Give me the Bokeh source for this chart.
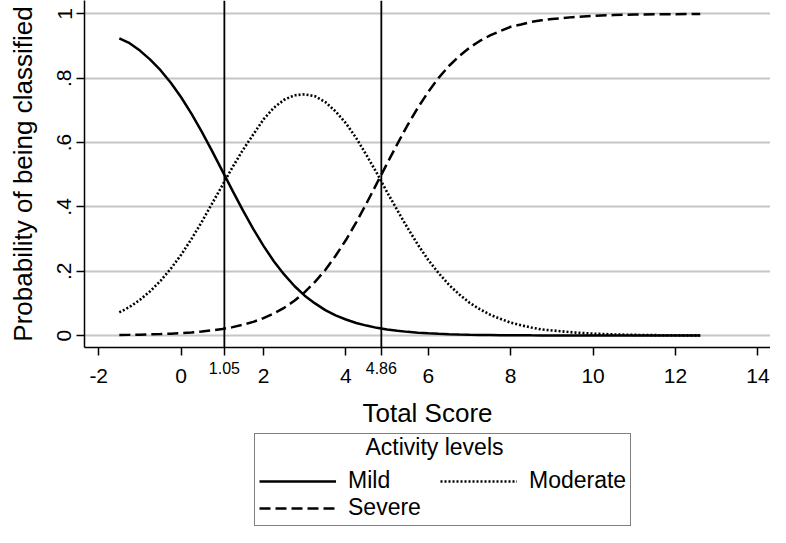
from bokeh.plotting import figure
from bokeh.layouts import column
from bokeh.models import (Range1d, FixedTicker, Span, Legend, LegendItem, Label,
                          NumeralTickFormatter, LinearAxis)
from bokeh.embed import file_html
from bokeh.resources import INLINE

# ---- data ----
score = [-1.5, -1.25, -1.0, -0.75, -0.5, -0.25,
         0.0, 0.25, 0.5, 0.75, 1.0, 1.25, 1.5, 1.75, 2.0, 2.25, 2.5, 2.75, 3.0, 3.25, 3.5,
         3.75, 4.0, 4.25, 4.5, 4.75, 5.0, 5.25, 5.5, 5.75, 6.0, 6.25, 6.5, 6.75, 7.0,
         7.25, 7.5, 7.75, 8.0, 8.25, 8.5, 8.75,
         9.0, 9.5, 10.0, 10.5, 11.0, 11.5, 12.0, 12.5, 12.6]
mild = [0.924, 0.909, 0.886, 0.858, 0.825, 0.786,
        0.741, 0.690, 0.634, 0.574, 0.512, 0.450, 0.389, 0.332, 0.279, 0.231, 0.190, 0.154,
        0.124, 0.100, 0.079, 0.063, 0.050, 0.039, 0.031, 0.024, 0.019, 0.015, 0.0115, 0.009,
        0.007, 0.0055, 0.0043, 0.0033, 0.0026,
        0.0020, 0.0016, 0.0012, 0.0010, 0.0008, 0.0006, 0.0005,
        0.0004, 0.0002, 0.0001, 0.0001, 0.0, 0.0, 0.0, 0.0, 0.0]
moderate = [0.072, 0.089, 0.111, 0.138, 0.170, 0.208,
            0.251, 0.300, 0.353, 0.410, 0.467, 0.524, 0.577, 0.625, 0.672, 0.708, 0.733, 0.747,
            0.750, 0.744, 0.726, 0.697, 0.660, 0.614, 0.561, 0.505, 0.446, 0.389, 0.334, 0.282,
            0.235, 0.194, 0.158, 0.128, 0.102,
            0.082, 0.065, 0.052, 0.040, 0.032, 0.025, 0.019,
            0.016, 0.010, 0.006, 0.0035, 0.0021, 0.0013, 0.0008, 0.0005, 0.0004]
severe = [0.0017, 0.0022, 0.0028, 0.0036, 0.0047, 0.0060,
          0.0077, 0.0098, 0.0126, 0.0161, 0.0206, 0.0263, 0.0336, 0.0427, 0.0542, 0.0685,
          0.0863, 0.108, 0.135, 0.167, 0.204, 0.248, 0.297, 0.352, 0.411, 0.473, 0.535, 0.596,
          0.655, 0.709, 0.758, 0.801, 0.838, 0.869, 0.895,
          0.916, 0.933, 0.947, 0.960, 0.967, 0.975, 0.980,
          0.984, 0.990, 0.994, 0.9964, 0.9979, 0.9987, 0.9992, 0.9995, 0.9996]
cutpoints = [1.05, 4.86]
cut_labels = ["1.05", "4.86"]
x_ticks = [-2, 0, 2, 4, 6, 8, 10, 12, 14]
y_ticks = [0, 0.2, 0.4, 0.6, 0.8, 1.0]
y_tick_labels = ["0", ".2", ".4", ".6", ".8", "1"]
series_names = ["Mild", "Moderate", "Severe"]
series_dash = ["solid", "2 2", "11 5"]
legend_title = "Activity levels"
x_title = "Total Score"
y_title = "Probability of being classified"

FONT = "Liberation Sans"

p = figure(width=770, height=430, output_backend="svg", toolbar_location=None,
           x_range=Range1d(-2.345, 14.306), y_range=Range1d(-0.0371, 1.0417),
           min_border_left=84, min_border_right=0, min_border_top=0, min_border_bottom=81)
p.outline_line_color = None
p.background_fill_color = "white"
p.border_fill_color = "white"

# grid
p.xgrid.visible = False
p.ygrid.grid_line_color = "#c6c6c6"
p.ygrid.grid_line_width = 2

# x axis A (next to the plot): all ticks, small labels only at the cut points
xa = p.xaxis[0]
xa.ticker = FixedTicker(ticks=x_ticks + cutpoints)
xa.formatter = NumeralTickFormatter(format="0.00")
overrides = {t: "" for t in x_ticks}
overrides.update({c: l for c, l in zip(cutpoints, cut_labels)})
xa.major_label_overrides = overrides
xa.major_label_text_font = FONT
xa.major_label_text_font_size = "16px"
xa.major_label_standoff = 6
xa.major_tick_out = 8
xa.major_tick_in = 0
xa.minor_tick_line_color = None
xa.axis_line_width = 1.5
xa.major_tick_line_width = 1.5
xa.axis_line_color = "black"
xa.major_tick_line_color = "black"
xa.major_label_text_color = "black"

# x axis B: main tick labels and title
xb = LinearAxis(ticker=FixedTicker(ticks=x_ticks), formatter=NumeralTickFormatter(format="0"),
                axis_line_color=None, major_tick_line_color=None, minor_tick_line_color=None,
                major_tick_out=0, major_tick_in=0, major_label_standoff=-8,
                major_label_text_font=FONT, major_label_text_font_size="21px",
                major_label_text_color="black",
                axis_label=x_title, axis_label_text_font=FONT, axis_label_text_font_size="26px",
                axis_label_text_font_style="normal", axis_label_text_color="black",
                axis_label_standoff=12)
p.add_layout(xb, "below")

# y axis
ya = p.yaxis[0]
ya.ticker = FixedTicker(ticks=y_ticks)
ya.major_label_overrides = {t: l for t, l in zip(y_ticks, y_tick_labels)}
ya.major_label_orientation = "vertical"
ya.axis_label = y_title
ya.axis_label_text_font = FONT
ya.axis_label_text_font_size = "26px"
ya.axis_label_text_font_style = "normal"
ya.axis_label_standoff = 17
ya.major_label_text_font = FONT
ya.major_label_text_font_size = "21px"
ya.major_label_standoff = 5
ya.major_tick_out = 8
ya.major_tick_in = 0
ya.minor_tick_line_color = None
ya.axis_line_width = 1.5
ya.major_tick_line_width = 1.5
ya.axis_line_color = "black"
ya.major_tick_line_color = "black"
ya.major_label_text_color = "black"
ya.axis_label_text_color = "black"

# cut-point lines
for c in cutpoints:
    p.add_layout(Span(location=c, dimension="height", line_color="black", line_width=1.8))

# curves
series = [mild, moderate, severe]
widths = [2.5, 2.6, 2.5]
for vals, dash, w in zip(series, series_dash, widths):
    p.line(score, vals, line_color="black", line_width=w, line_dash=dash)

# ---- legend panel below the plot ----
pl = figure(width=770, height=97, output_backend="svg", toolbar_location=None,
            x_axis_type=None, y_axis_type=None,
            x_range=Range1d(100, 101), y_range=Range1d(100, 101),
            min_border_left=0, min_border_right=0, min_border_top=0, min_border_bottom=0)
pl.outline_line_color = None
pl.grid.visible = False
pl.background_fill_color = "white"
pl.border_fill_color = "white"
items = []
for name, vals, dash, w in zip(series_names, series, series_dash, widths):
    r = pl.line(score, vals, line_color="black", line_width=w, line_dash=dash)
    items.append(LegendItem(label=name, renderers=[r]))

legend = Legend(items=items, location=(170, 1), orientation="horizontal", ncols=2,
                title=" ", title_text_font=FONT, title_text_font_size="23px",
                title_text_font_style="normal", title_standoff=2,
                label_text_font=FONT, label_text_font_size="23px", label_text_color="black",
                glyph_width=77, glyph_height=26, label_height=26, label_width=92,
                label_standoff=12, padding=4, spacing=0, margin=0,
                border_line_color="black", border_line_width=1.5,
                background_fill_alpha=0.0)
pl.add_layout(legend)
pl.add_layout(Label(x=350, y=81, x_units="screen", y_units="screen", text=legend_title,
                    text_font=FONT, text_font_size="23px", text_color="black",
                    text_align="center", text_baseline="alphabetic", level="overlay"))

layout = column(p, pl, spacing=0)
open("out.html", "w").write(file_html(layout, INLINE))
